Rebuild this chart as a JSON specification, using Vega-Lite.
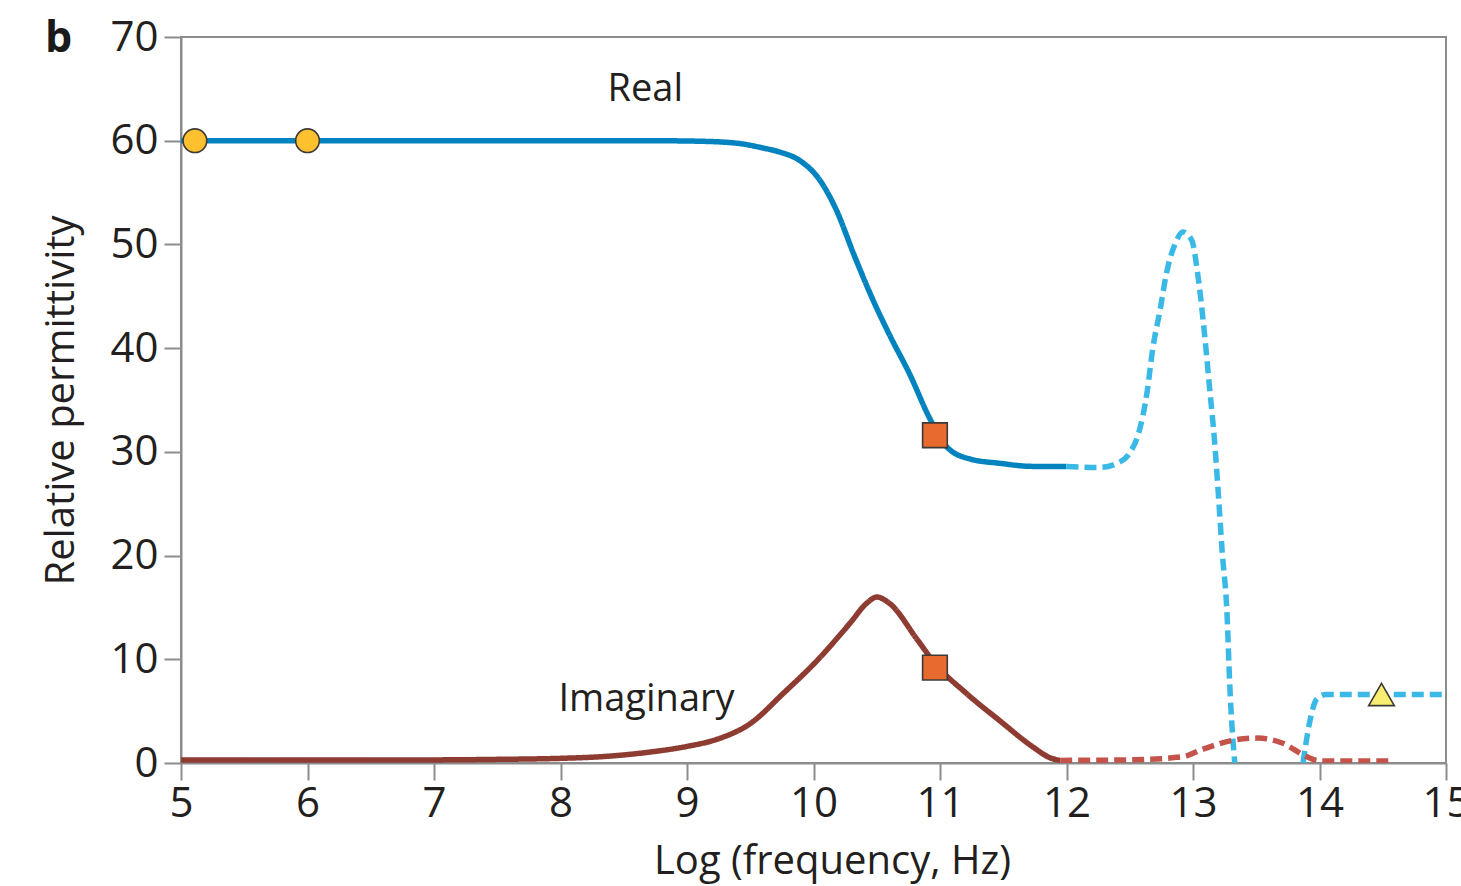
{
  "$schema": "https://vega.github.io/schema/vega-lite/v6.json",
  "width": 1265,
  "height": 726,
  "autosize": {"type": "none"},
  "padding": {"left": 181, "top": 37, "right": 15, "bottom": 123},
  "background": "white",
  "config": {
    "font": "Open Sans",
    "view": {"stroke": "#8c8c8c", "strokeWidth": 2},
    "axis": {
      "grid": false,
      "labelFlush": false,
      "domainColor": "#8c8c8c",
      "domainWidth": 2,
      "tickColor": "#8c8c8c",
      "tickWidth": 2,
      "tickSize": 17,
      "labelFont": "Open Sans",
      "labelFontSize": 42,
      "labelColor": "#231f20",
      "titleFont": "Open Sans",
      "titleFontSize": 40,
      "titleFontWeight": "normal",
      "titleColor": "#231f20"
    }
  },
  "datasets": {
    "curves": [
      {"f": 5.0, "eps": 60.0, "series": "real"},
      {"f": 6.0, "eps": 60.0, "series": "real"},
      {"f": 7.0, "eps": 60.0, "series": "real"},
      {"f": 8.0, "eps": 60.0, "series": "real"},
      {"f": 8.7, "eps": 60.0, "series": "real"},
      {"f": 9.1, "eps": 59.95, "series": "real"},
      {"f": 9.4, "eps": 59.75, "series": "real"},
      {"f": 9.6, "eps": 59.3, "series": "real"},
      {"f": 9.735, "eps": 58.9, "series": "real"},
      {"f": 9.89, "eps": 58.1, "series": "real"},
      {"f": 10.05, "eps": 56.2, "series": "real"},
      {"f": 10.17, "eps": 53.6, "series": "real"},
      {"f": 10.33, "eps": 48.7, "series": "real"},
      {"f": 10.45, "eps": 45.2, "series": "real"},
      {"f": 10.6, "eps": 41.3, "series": "real"},
      {"f": 10.76, "eps": 37.5, "series": "real"},
      {"f": 10.92, "eps": 33.2, "series": "real"},
      {"f": 10.96, "eps": 32.3, "series": "real"},
      {"f": 11.06, "eps": 30.4, "series": "real"},
      {"f": 11.24, "eps": 29.3, "series": "real"},
      {"f": 11.47, "eps": 28.9, "series": "real"},
      {"f": 11.73, "eps": 28.6, "series": "real"},
      {"f": 12.0, "eps": 28.6, "series": "real"},

      {"f": 12.0, "eps": 28.6, "series": "real_ir"},
      {"f": 12.26, "eps": 28.5, "series": "real_ir"},
      {"f": 12.4, "eps": 28.9, "series": "real_ir"},
      {"f": 12.5, "eps": 29.9, "series": "real_ir"},
      {"f": 12.57, "eps": 31.8, "series": "real_ir"},
      {"f": 12.64, "eps": 36.0, "series": "real_ir"},
      {"f": 12.68, "eps": 39.8, "series": "real_ir"},
      {"f": 12.74, "eps": 43.7, "series": "real_ir"},
      {"f": 12.79, "eps": 47.2, "series": "real_ir"},
      {"f": 12.86, "eps": 50.1, "series": "real_ir"},
      {"f": 12.92, "eps": 51.2, "series": "real_ir"},
      {"f": 12.99, "eps": 50.4, "series": "real_ir"},
      {"f": 13.04, "eps": 46.9, "series": "real_ir"},
      {"f": 13.09, "eps": 41.5, "series": "real_ir"},
      {"f": 13.13, "eps": 36.3, "series": "real_ir"},
      {"f": 13.17, "eps": 31.1, "series": "real_ir"},
      {"f": 13.2, "eps": 26.0, "series": "real_ir"},
      {"f": 13.23, "eps": 20.5, "series": "real_ir"},
      {"f": 13.27, "eps": 14.1, "series": "real_ir"},
      {"f": 13.29, "eps": 7.7, "series": "real_ir"},
      {"f": 13.33, "eps": 0.0, "series": "real_ir"},

      {"f": 13.87, "eps": 0.0, "series": "real_opt"},
      {"f": 13.92, "eps": 3.8, "series": "real_opt"},
      {"f": 13.98, "eps": 6.2, "series": "real_opt"},
      {"f": 14.05, "eps": 6.6, "series": "real_opt"},
      {"f": 14.5, "eps": 6.6, "series": "real_opt"},
      {"f": 15.0, "eps": 6.6, "series": "real_opt"},

      {"f": 5.0, "eps": 0.3, "series": "imag"},
      {"f": 6.0, "eps": 0.3, "series": "imag"},
      {"f": 7.0, "eps": 0.3, "series": "imag"},
      {"f": 7.5, "eps": 0.35, "series": "imag"},
      {"f": 8.0, "eps": 0.45, "series": "imag"},
      {"f": 8.31, "eps": 0.6, "series": "imag"},
      {"f": 8.71, "eps": 1.06, "series": "imag"},
      {"f": 9.0, "eps": 1.6, "series": "imag"},
      {"f": 9.24, "eps": 2.3, "series": "imag"},
      {"f": 9.5, "eps": 3.8, "series": "imag"},
      {"f": 9.76, "eps": 6.7, "series": "imag"},
      {"f": 10.03, "eps": 9.9, "series": "imag"},
      {"f": 10.29, "eps": 13.5, "series": "imag"},
      {"f": 10.42, "eps": 15.4, "series": "imag"},
      {"f": 10.5, "eps": 16.0, "series": "imag"},
      {"f": 10.6, "eps": 15.4, "series": "imag"},
      {"f": 10.82, "eps": 11.9, "series": "imag"},
      {"f": 10.96, "eps": 9.6, "series": "imag"},
      {"f": 11.21, "eps": 6.7, "series": "imag"},
      {"f": 11.47, "eps": 4.1, "series": "imag"},
      {"f": 11.74, "eps": 1.5, "series": "imag"},
      {"f": 11.87, "eps": 0.5, "series": "imag"},
      {"f": 11.95, "eps": 0.25, "series": "imag"},

      {"f": 11.95, "eps": 0.25, "series": "imag_ir"},
      {"f": 12.5, "eps": 0.3, "series": "imag_ir"},
      {"f": 12.92, "eps": 0.6, "series": "imag_ir"},
      {"f": 13.06, "eps": 1.25, "series": "imag_ir"},
      {"f": 13.32, "eps": 2.2, "series": "imag_ir"},
      {"f": 13.51, "eps": 2.4, "series": "imag_ir"},
      {"f": 13.71, "eps": 1.9, "series": "imag_ir"},
      {"f": 13.9, "eps": 0.6, "series": "imag_ir"},
      {"f": 14.0, "eps": 0.2, "series": "imag_ir"},
      {"f": 14.58, "eps": 0.2, "series": "imag_ir"}
    ],
    "markers": [
      {"f": 5.11, "eps": 60.0, "kind": "circle"},
      {"f": 6.0, "eps": 60.0, "kind": "circle"},
      {"f": 10.96, "eps": 31.6, "kind": "square"},
      {"f": 10.96, "eps": 9.2, "kind": "square"},
      {"f": 14.49, "eps": 6.6, "kind": "triangle-up"}
    ],
    "labels": [
      {"f": 8.67, "eps": 64.9, "text": "Real"},
      {"f": 8.68, "eps": 6.1, "text": "Imaginary"}
    ],
    "panel": [
      {"f": 4.032, "eps": 68.55, "text": "b"}
    ]
  },
  "layer": [
    {
      "data": {"name": "curves"},
      "mark": {"type": "line", "strokeWidth": 5.5, "interpolate": "monotone", "strokeCap": "butt", "clip": true},
      "encoding": {
        "x": {
          "field": "f",
          "type": "quantitative",
          "scale": {"domain": [5, 15], "nice": false, "zero": false},
          "axis": {
            "values": [5, 6, 7, 8, 9, 10, 11, 12, 13, 14, 15],
            "format": "d",
            "labelPadding": 3,
            "title": "Log (frequency, Hz)",
            "titleX": 651,
            "titlePadding": 17
          }
        },
        "y": {
          "field": "eps",
          "type": "quantitative",
          "scale": {"domain": [0, 70], "nice": false, "zero": false},
          "axis": {
            "values": [0, 10, 20, 30, 40, 50, 60, 70],
            "format": "d",
            "labelPadding": 6,
            "title": "Relative permittivity",
            "titlePadding": 28
          }
        },
        "detail": {"field": "series"},
        "color": {
          "field": "series",
          "type": "nominal",
          "legend": null,
          "scale": {
            "domain": ["real", "real_ir", "real_opt", "imag", "imag_ir"],
            "range": ["#0083be", "#3bb9e6", "#3bb9e6", "#8e3b32", "#c4534b"]
          }
        },
        "strokeDash": {
          "field": "series",
          "type": "nominal",
          "legend": null,
          "scale": {
            "domain": ["real", "real_ir", "real_opt", "imag", "imag_ir"],
            "range": [[1, 0], [12, 6], [12, 6], [1, 0], [12, 6]]
          }
        }
      }
    },
    {
      "data": {"name": "markers"},
      "mark": {"type": "point", "filled": true, "strokeWidth": 1.6, "opacity": 1, "clip": false},
      "encoding": {
        "x": {"field": "f", "type": "quantitative"},
        "y": {"field": "eps", "type": "quantitative"},
        "shape": {
          "field": "kind",
          "type": "nominal",
          "legend": null,
          "scale": {"domain": ["circle", "square", "triangle-up"], "range": ["circle", "square", "triangle-up"]}
        },
        "fill": {
          "field": "kind",
          "type": "nominal",
          "legend": null,
          "scale": {"domain": ["circle", "square", "triangle-up"], "range": ["#fdc12f", "#e86a2e", "#f8ee72"]}
        },
        "size": {
          "field": "kind",
          "type": "nominal",
          "legend": null,
          "scale": {"domain": ["circle", "square", "triangle-up"], "range": [560, 660, 560]}
        },
        "stroke": {"value": "#3d3a36"}
      }
    },
    {
      "data": {"name": "labels"},
      "mark": {"type": "text", "fontSize": 38, "font": "Open Sans", "color": "#231f20", "align": "center", "baseline": "middle"},
      "encoding": {
        "x": {"field": "f", "type": "quantitative"},
        "y": {"field": "eps", "type": "quantitative"},
        "text": {"field": "text"}
      }
    },
    {
      "data": {"name": "panel"},
      "mark": {"type": "text", "fontSize": 43, "fontWeight": "bold", "font": "Open Sans", "color": "#1a1a1a", "align": "center", "baseline": "alphabetic", "clip": false},
      "encoding": {
        "x": {"field": "f", "type": "quantitative"},
        "y": {"field": "eps", "type": "quantitative"},
        "text": {"field": "text"}
      }
    }
  ]
}
